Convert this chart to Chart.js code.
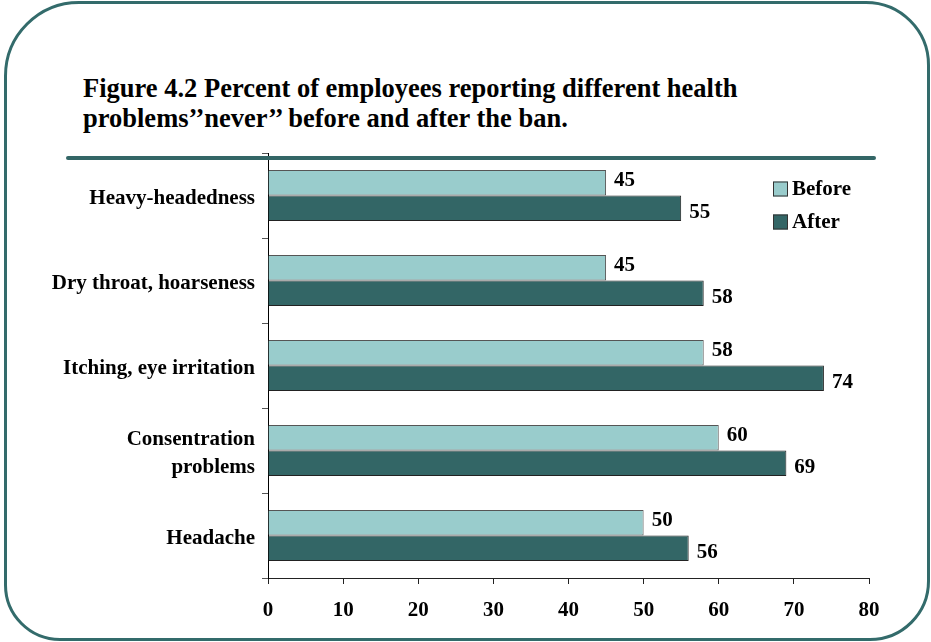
<!DOCTYPE html>
<html>
<head>
<meta charset="utf-8">
<script src="https://cdn.jsdelivr.net/npm/chart.js@4"></script>
<style>
body{margin:0;background:#fff;width:931px;height:642px;overflow:hidden;position:relative;font-family:"Liberation Serif","Times New Roman",serif}
#frame{position:absolute;left:4px;top:1px;width:920px;height:634px;border:3px solid #336b6b;
  border-radius:75px 64px 60px 56px}
#title{position:absolute;left:83px;top:73px;font-weight:bold;font-size:26.5px;line-height:30px;color:#000;white-space:nowrap}
#rule{position:absolute;left:66px;top:156px;width:810px;height:4px;background:#336666;border-radius:2px}
#wrap{position:absolute;left:0;top:140px;width:931px;height:500px}
</style>
</head>
<body>
<div id="frame"></div>
<div id="title">Figure 4.2 Percent of employees reporting different health<br>problems’’never’’ before and after the ban.</div>
<div id="wrap"><canvas id="chart"></canvas></div>
<div id="rule"></div>
<script>
const categories = ["Heavy-headedness", "Dry throat, hoarseness", "Itching, eye irritation", ["Consentration", "problems"], "Headache"]
const beforeValues = [45, 45, 58, 60, 50]
const afterValues = [55, 58, 74, 69, 56]
const xTicks = [0, 10, 20, 30, 40, 50, 60, 70, 80]

const labelFont = "bold 21px 'Liberation Serif', 'Times New Roman', serif"

// value labels to the right of each bar
const valueLabels = {
  id:"valueLabels",
  afterDatasetsDraw(chart){
    const ctx = chart.ctx
    ctx.save()
    ctx.font = labelFont
    ctx.fillStyle = "#000"
    ctx.textBaseline = "middle"
    chart.data.datasets.forEach((ds, i)=>{
      const shift = i === 0 ? -2 : 4
      chart.getDatasetMeta(i).data.forEach((bar, j)=>{
        ctx.fillText(ds.data[j], bar.x + 8, bar.y + shift)
      })
    })
    ctx.restore()
  }
}

// small legend inside the plot, top right
const boxLegend = {
  id:"boxLegend",
  afterDraw(chart){
    const ctx = chart.ctx
    const a = chart.chartArea
    let x = a.right - 96, y = a.top + 36
    ctx.save()
    ctx.font = labelFont
    ctx.textBaseline = "middle"
    chart.data.datasets.forEach(ds=>{
      ctx.fillStyle = ds.backgroundColor
      ctx.fillRect(x, y - 7.5, 15, 15)
      ctx.strokeStyle = "#333"
      ctx.lineWidth = 1
      ctx.strokeRect(x + 0.5, y - 7, 14, 14)
      ctx.fillStyle = "#000"
      ctx.fillText(ds.label, x + 19, y + 1)
      y += 33
    })
    ctx.restore()
  }
}

const tickFont = {family:"'Liberation Serif', 'Times New Roman', serif", size:21, weight:"bold", lineHeight:1.3}

new Chart(document.getElementById("chart"), {
  type:"bar",
  data:{
    labels:categories,
    datasets:[
      {label:"Before", data:beforeValues, backgroundColor:"#99cccc", borderColor:"#555", borderWidth:1},
      {label:"After", data:afterValues, backgroundColor:"#336666", borderColor:"#222", borderWidth:1}
    ]
  },
  options:{
    indexAxis:"y",
    responsive:true,
    maintainAspectRatio:false,
    animation:false,
    layout:{padding:{top:13, right:62, left:0, bottom:0}},
    datasets:{bar:{categoryPercentage:0.6, barPercentage:1.0}},
    plugins:{legend:{display:false}, tooltip:{enabled:false}},
    scales:{
      x:{
        min:0, max:80,
        afterBuildTicks(s){ s.ticks = xTicks.map(v=>({value:v})) },
        afterFit(s){ s.height = 62; s.paddingLeft = 0; s.paddingRight = 0 },
        grid:{drawOnChartArea:false, tickLength:6, color:"#222"},
        border:{color:"#222", width:1},
        ticks:{color:"#000", padding:13, font:tickFont}
      },
      y:{
        afterFit(s){ s.width = 268; s.paddingTop = 0; s.paddingBottom = 0 },
        grid:{drawOnChartArea:false, offset:true, tickLength:6, color:"#555"},
        border:{color:"#000", width:1},
        ticks:{color:"#000", padding:7, labelOffset:3, font:tickFont}
      }
    }
  },
  plugins:[valueLabels, boxLegend]
})
</script>
</body>
</html>
